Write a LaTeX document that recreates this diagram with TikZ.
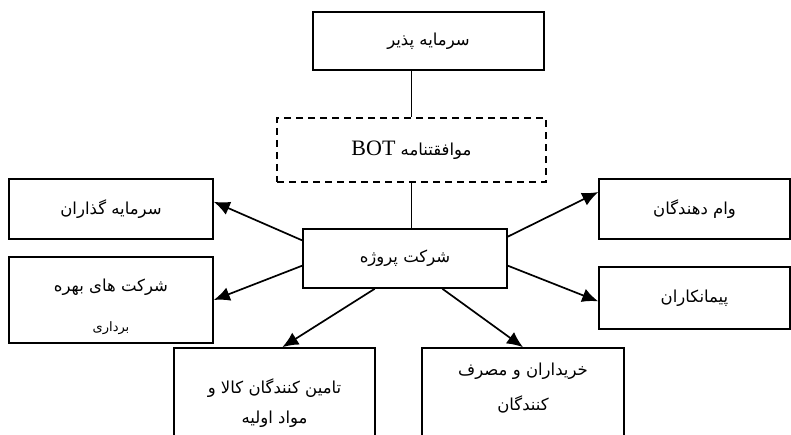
\documentclass[tikz,border=0pt]{standalone}
\usepackage{fontspec}
\setmainfont{Liberation Serif}
\newfontfamily\farsi[Script=Arabic]{DejaVu Sans}
\TeXXeTstate=1
\usepackage{tikz}
\usetikzlibrary{arrows.meta}

\begin{document}
\begin{tikzpicture}[x=1pt,y=-1pt]
\tikzset{box/.style = {shape=rectangle,draw,line width=1.6pt,font=\farsi\fontsize{16.5}{32}\selectfont,align=center,inner sep=0pt}}
\tikzset{edge/.style = {-{Latex[length=16pt,width=14pt]},line width=1.7pt}}
\tikzset{link/.style = {-,line width=1.6pt}}
\useasboundingbox (0,0) rectangle (791,435);
\clip (0,0) rectangle (791,435);
% vertices
\node[box,minimum width=231pt,minimum height=58pt] (host) at (428.5,41) {\beginR سرمایه پذیر\endR};
\node[box,dash pattern=on 7pt off 5pt,minimum width=269pt,minimum height=64pt] (agr) at (411.5,150) {\beginR موافقتنامه {\rmfamily\fontsize{22}{26}\selectfont\beginL BOT\endL}\endR};
\node[box,minimum width=204pt,minimum height=59pt] (proj) at (405,258.5) {\beginR شرکت پروژه\endR};
\node[box,minimum width=204pt,minimum height=60pt] (inv) at (111,209) {\beginR سرمایه گذاران\endR};
\node[box,minimum width=204pt,minimum height=86pt] (oper) at (111,300) {\rule{0pt}{26pt}\beginR شرکت های بهره\endR\\[8pt]{\fontsize{13}{14}\selectfont\beginR برداری\endR}};
\node[box,minimum width=201pt,minimum height=110pt] (supp) at (274.5,403) {\beginR تامین کنندگان کالا و\endR\\[-2pt]\beginR مواد اولیه\endR};
\node[box,minimum width=191pt,minimum height=60pt] (lend) at (694.5,209) {\beginR وام دهندگان\endR};
\node[box,minimum width=191pt,minimum height=62pt] (cont) at (694.5,298) {\beginR پیمانکاران\endR};
\node[box,minimum width=202pt,minimum height=110pt,text depth=32pt] (buy) at (523,403) {\beginR خریداران و مصرف\endR\\[3pt]\beginR کنندگان\endR};
%edges
\draw[link] (agr.north) to (agr.north |- host.south);
\draw[link] (agr.south) to (agr.south |- proj.north);
\draw[edge] (proj.170) to (inv.4);
\draw[edge] (proj.184) to (oper.east);
\draw[edge] (proj.225) to (supp.82);
\draw[edge] (proj.12) to (lend.170);
\draw[edge] (proj.-4) to (cont.182);
\draw[edge] (proj.-39) to (buy.north);
\end{tikzpicture}
\end{document}
